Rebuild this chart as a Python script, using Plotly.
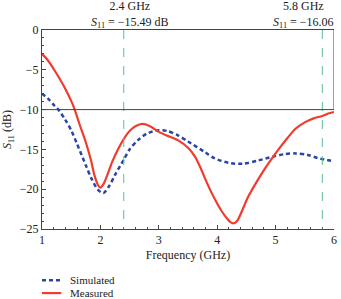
import plotly.graph_objects as go

# Measured S11 (dB)
meas_f = [1.0, 1.1, 1.2, 1.3, 1.4, 1.5, 1.56, 1.65, 1.75, 1.84, 1.9, 1.96, 2.0, 2.05, 2.12,
          2.2, 2.3, 2.4, 2.5, 2.6, 2.72, 2.85, 3.0, 3.15, 3.34, 3.5, 3.62, 3.72, 3.8, 3.9,
          4.0, 4.08, 4.15, 4.22, 4.28, 4.34, 4.42, 4.52, 4.65, 4.8, 4.95, 5.06, 5.2, 5.34,
          5.5, 5.65, 5.8, 5.9, 6.0]
meas_s = [-3.0, -3.8, -4.9, -6.1, -7.4, -8.9, -10.0, -12.0, -14.1, -16.4, -18.3, -19.5, -19.8,
          -19.4, -18.2, -16.6, -15.0, -13.7, -12.7, -12.1, -11.8, -12.1, -12.8, -13.3, -13.9,
          -14.8, -15.9, -17.4, -18.8, -20.4, -21.8, -22.8, -23.5, -24.1, -24.3, -24.0, -22.8,
          -21.1, -19.4, -17.6, -16.0, -14.9, -13.6, -12.4, -11.6, -11.1, -10.8, -10.5, -10.3]

# Simulated S11 (dB)
sim_f = [1.0, 1.1, 1.2, 1.28, 1.4, 1.5, 1.6, 1.75, 1.85, 1.95, 2.05, 2.15, 2.25, 2.4, 2.5,
         2.65, 2.8, 3.0, 3.15, 3.32, 3.5, 3.78, 3.95, 4.2, 4.45, 4.7, 4.96, 5.15, 5.34, 5.55,
         5.73, 6.0]
sim_s = [-8.0, -8.6, -9.4, -10.0, -11.3, -12.6, -14.3, -17.0, -18.7, -20.0, -20.5, -19.6,
         -18.2, -16.3, -15.0, -13.8, -13.0, -12.6, -12.7, -13.2, -14.0, -15.3, -16.1, -16.7,
         -16.8, -16.4, -15.9, -15.6, -15.5, -15.7, -16.1, -16.5]

marker_f = [2.4, 5.8]
marker_text = ["2.4 GHz<br><i>S</i><sub>11</sub> = −15.49 dB",
               "5.8 GHz<br><i>S</i><sub>11</sub> = −16.06"]
series_names = ["Simulated", "Measured"]

FONT = "Liberation Serif"
SIM_COLOR = "#2a45a8"
MEAS_COLOR = "#f23b2c"
SIM_DASH = "4px,3px"

fig = go.Figure()
fig.add_trace(go.Scatter(x=sim_f, y=sim_s, mode="lines", name=series_names[0], showlegend=False,
                         line=dict(color=SIM_COLOR, width=2.5, dash=SIM_DASH, shape="spline",
                                   smoothing=0.8)))
fig.add_trace(go.Scatter(x=meas_f, y=meas_s, mode="lines", name=series_names[1], showlegend=False,
                         line=dict(color=MEAS_COLOR, width=2.2, shape="spline", smoothing=0.8)))

for f in marker_f:
    fig.add_shape(type="line", x0=f, x1=f, y0=0, y1=-25, xref="x", yref="y",
                  line=dict(color="#5fb8a0", width=1, dash="dash"))
fig.add_shape(type="line", x0=1, x1=6, y0=-10, y1=-10, xref="x", yref="y",
              line=dict(color="#444444", width=1))
fig.add_shape(type="line", x0=6, x1=6, y0=0, y1=-10, xref="x", yref="y",
              line=dict(color="#444444", width=1))

fig.add_annotation(x=2.5, y=1.0, xref="x", yref="paper", text=marker_text[0],
                   showarrow=False, yanchor="bottom", yshift=-2,
                   font=dict(size=12, family=FONT, color="#222"))
fig.add_annotation(x=5.47, y=1.0, xref="x", yref="paper", text=marker_text[1],
                   showarrow=False, yanchor="bottom", yshift=-2,
                   font=dict(size=12, family=FONT, color="#222"))

# Legend (drawn manually to match compact spacing)
leg_y = [-0.258, -0.322]
leg_styles = [dict(color=SIM_COLOR, width=2.5, dash=SIM_DASH), dict(color=MEAS_COLOR, width=2.2)]
for name, yy, st in zip(series_names, leg_y, leg_styles):
    fig.add_shape(type="line", xref="paper", yref="paper", x0=0.0, x1=0.066, y0=yy, y1=yy, line=st)
    fig.add_annotation(xref="paper", yref="paper", x=0.088, y=yy, text=name, showarrow=False,
                       xanchor="left", yanchor="middle",
                       font=dict(size=11, family=FONT, color="#222"))

fig.update_layout(
    width=341, height=299,
    margin=dict(l=42, r=4, t=30, b=70),
    paper_bgcolor="white", plot_bgcolor="white",
    font=dict(family=FONT, size=12, color="#222"),
    showlegend=False,
)
fig.update_xaxes(range=[1, 6], dtick=1, tick0=1, showline=True, linecolor="#444", linewidth=1,
                 mirror=True, ticks="inside", ticklen=4, tickcolor="#444", showgrid=False,
                 zeroline=False, minor=dict(dtick=0.2, ticks="inside", ticklen=2, tickcolor="#444"),
                 tickfont=dict(size=12),
                 title=dict(text="Frequency (GHz)", standoff=4, font=dict(size=12)))
fig.update_yaxes(range=[-25, 0], dtick=5, showline=True, linecolor="#444", linewidth=1,
                 ticks="inside", ticklen=4, tickcolor="#444", showgrid=False, zeroline=False,
                 minor=dict(dtick=1, ticks="inside", ticklen=2, tickcolor="#444"),
                 tickfont=dict(size=12),
                 title=dict(text="<i>S</i><sub>11</sub> (dB)", standoff=6, font=dict(size=12)))

fig.write_html("out.html")
